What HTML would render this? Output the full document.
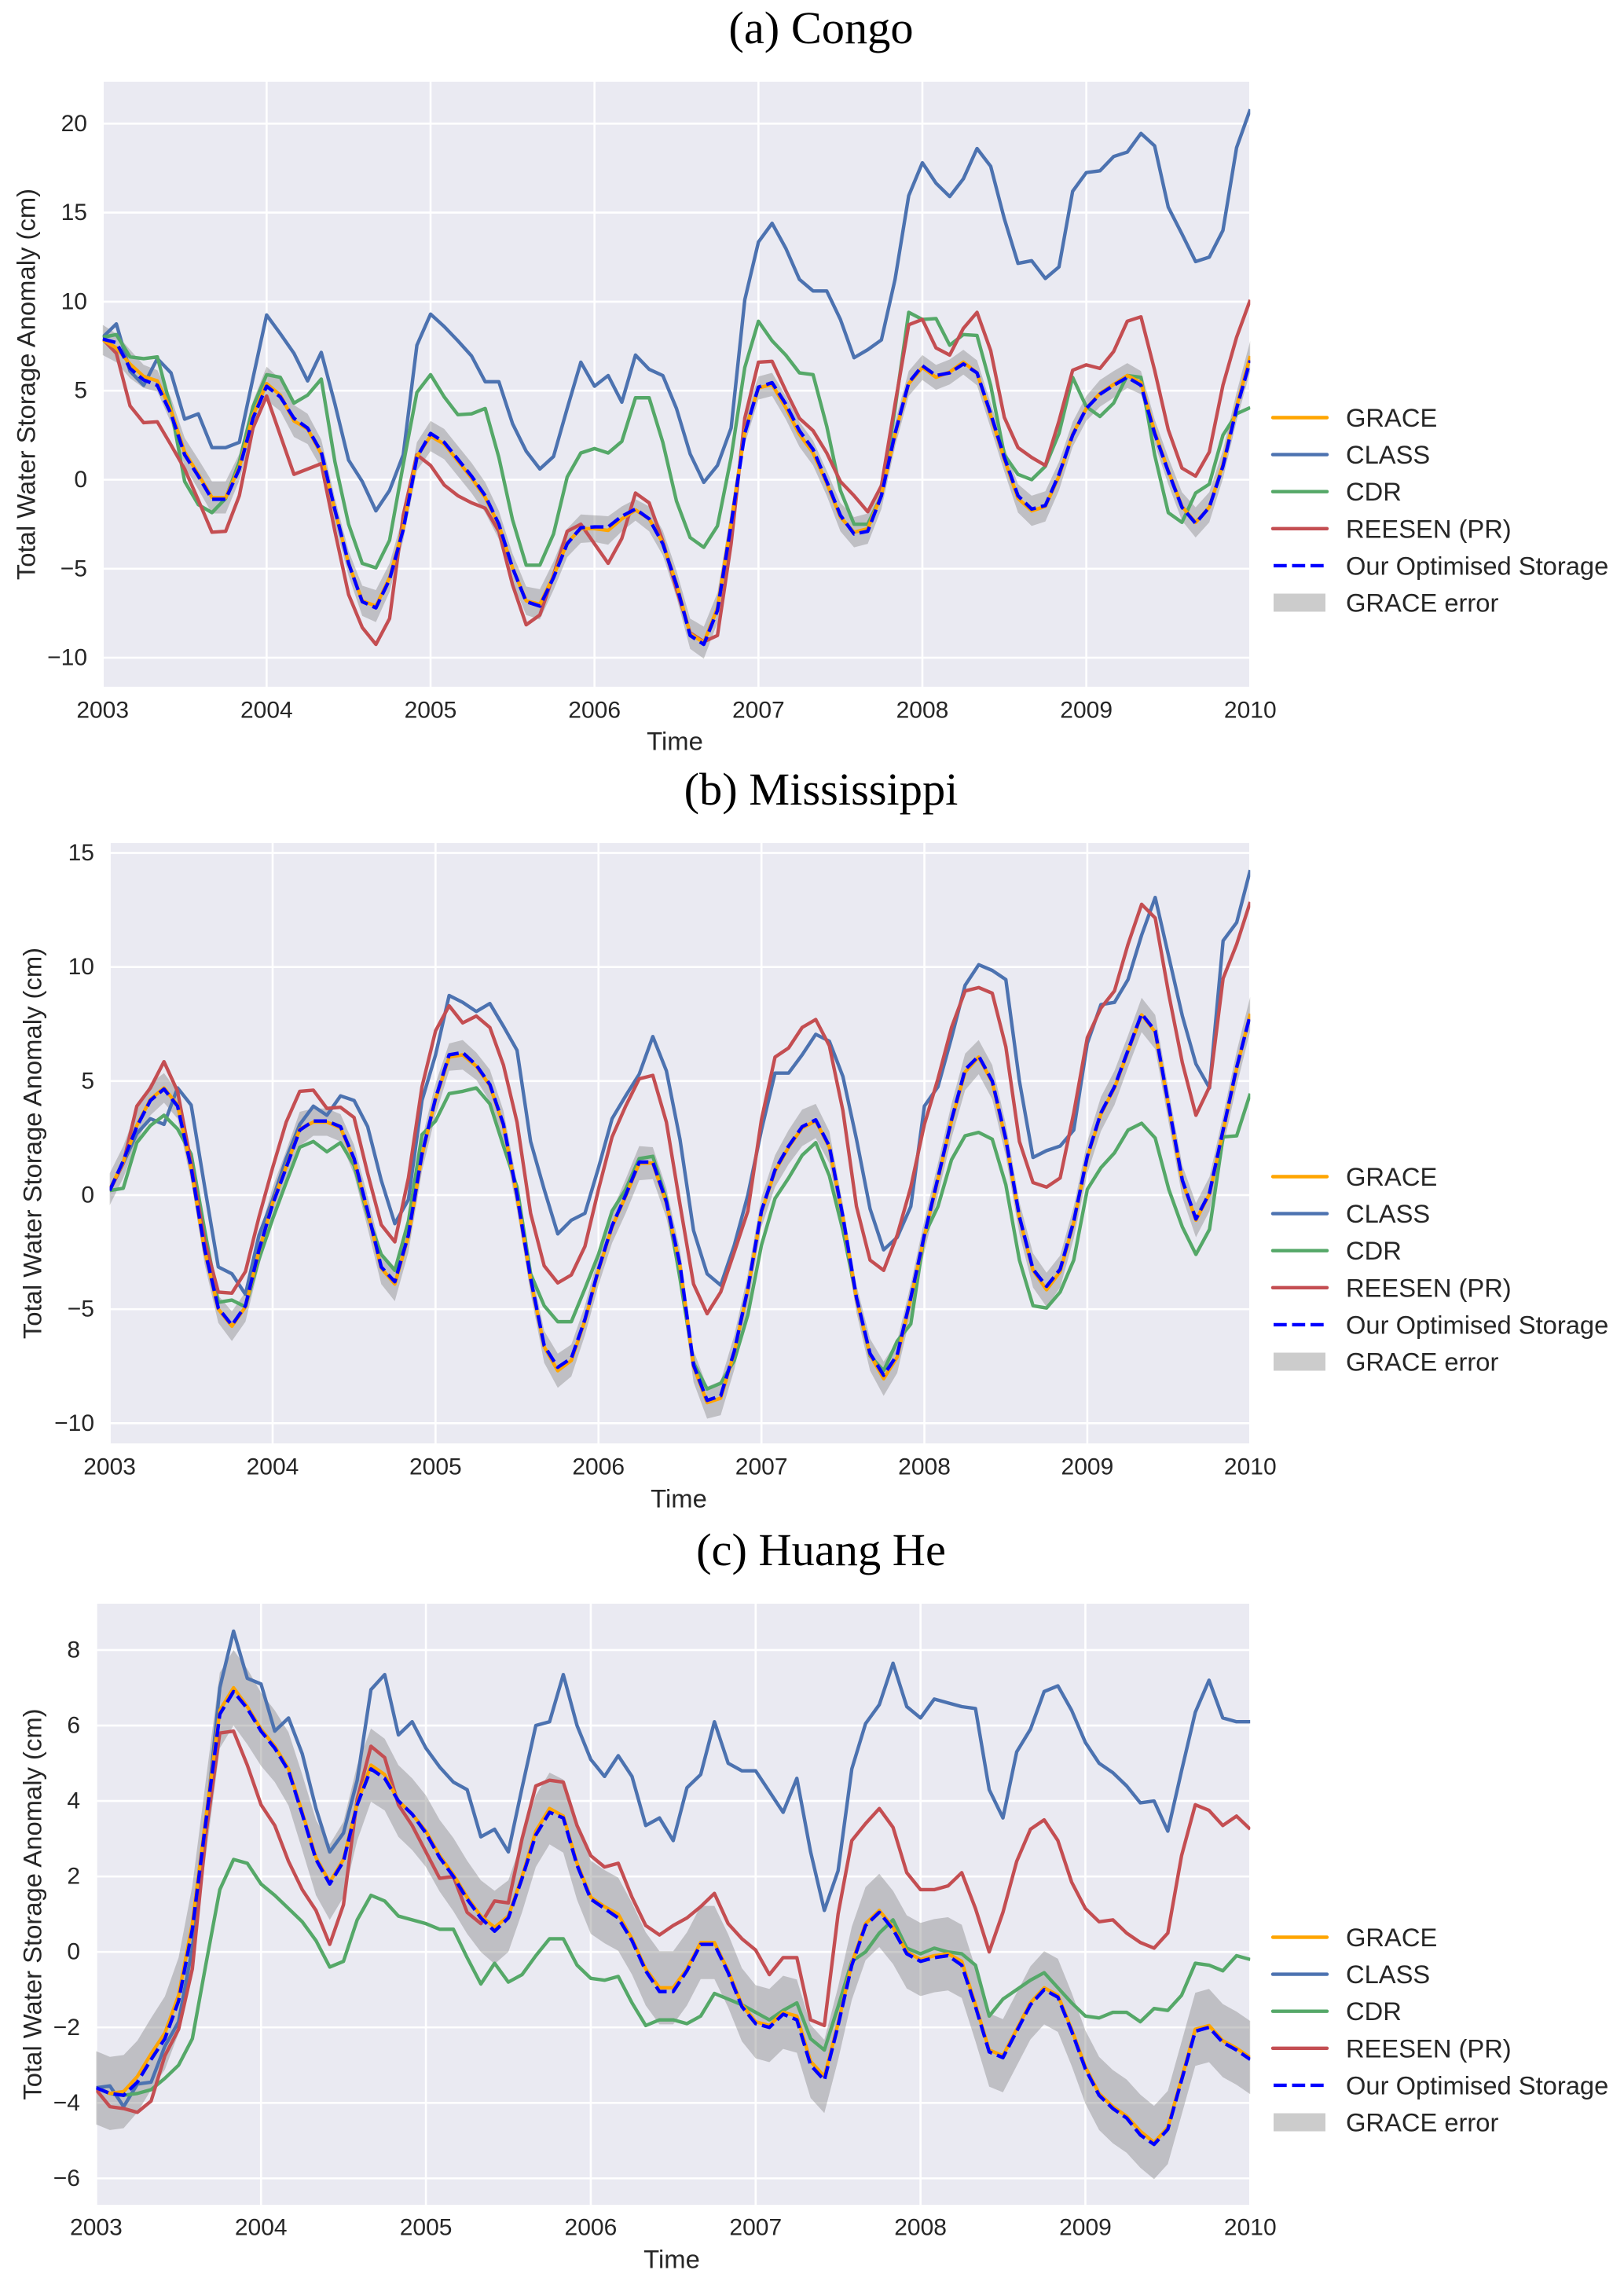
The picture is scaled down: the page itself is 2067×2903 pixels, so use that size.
<!DOCTYPE html>
<html lang="en">
<head>
<meta charset="utf-8">
<title>Total Water Storage Anomaly</title>
<style>
html,body{margin:0;padding:0;background:#fff;}
svg{display:block;}
text{font-family:"Liberation Sans",sans-serif;fill:#262626;}
.title{font-family:"Liberation Serif",serif;fill:#000;font-size:58.4px;text-anchor:middle;}
.tick{font-size:30px;}
.axis{font-size:32.8px;}
.leg{font-size:32.7px;dominant-baseline:central;}
</style>
</head>
<body>
<svg id="root" xmlns="http://www.w3.org/2000/svg" width="2067" height="2903" viewBox="0 0 2067 2903"></svg>
<script>
const xTickLabels = ['2003','2004','2005','2006','2007','2008','2009','2010'];
const monthsPerYear = 12;
const seriesLabels = ['GRACE','CLASS','CDR','REESEN (PR)','Our Optimised Storage','GRACE error'];

const congoYTicks = [-10,-5,0,5,10,15,20];
const congoClass = [
8.0,8.75,6.1,5.3,6.8,6.0,3.4,3.7,1.8,1.8,2.1,5.7,
9.25,8.2,7.1,5.55,7.15,4.25,1.1,-0.1,-1.75,-0.6,1.4,7.55,
9.3,8.6,7.8,6.95,5.5,5.5,3.15,1.6,0.6,1.3,4.0,6.6,
5.25,5.85,4.35,7.0,6.2,5.85,4.0,1.45,-0.15,0.8,2.9,10.1,
13.35,14.4,13.0,11.25,10.6,10.6,9.0,6.85,7.3,7.85,11.25,15.95,
17.8,16.65,15.9,16.9,18.6,17.6,14.65,12.15,12.3,11.3,11.95,16.2,
17.25,17.35,18.15,18.4,19.45,18.75,15.3,13.8,12.25,12.5,14.0,18.65,
20.8];
const congoCdr = [
8.0,8.15,6.9,6.8,6.9,4.0,-0.1,-1.4,-1.85,-1.05,1.0,4.1,
5.9,5.75,4.3,4.75,5.65,1.0,-2.5,-4.7,-4.95,-3.4,0.85,4.9,
5.9,4.65,3.65,3.7,4.0,1.25,-2.25,-4.8,-4.8,-3.05,0.15,1.5,
1.75,1.5,2.15,4.6,4.6,2.1,-1.2,-3.25,-3.8,-2.6,1.25,6.3,
8.9,7.8,7.0,6.0,5.9,3.0,-0.6,-2.5,-2.5,-0.9,4.0,9.4,
9.0,9.05,7.55,8.15,8.1,5.3,1.4,0.3,0,0.75,2.6,5.75,
4.1,3.55,4.3,5.85,5.75,1.4,-1.85,-2.4,-0.75,-0.25,2.5,3.7,
4.05];
const congoReesen = [
7.9,7.1,4.15,3.2,3.25,1.95,0.6,-1.15,-2.95,-2.9,-0.9,2.9,
4.7,2.5,0.3,0.6,0.9,-2.9,-6.45,-8.3,-9.25,-7.8,-2.0,1.4,
0.8,-0.3,-0.9,-1.3,-1.6,-2.9,-5.9,-8.15,-7.6,-5.35,-2.9,-2.5,
-3.6,-4.7,-3.3,-0.75,-1.3,-3.45,-6.15,-8.6,-9.1,-8.75,-3.6,3.45,
6.6,6.65,5.0,3.45,2.75,1.5,-0.1,-0.9,-1.8,-0.35,4.25,8.7,
9.0,7.4,7.0,8.5,9.4,7.25,3.5,1.8,1.25,0.8,3.3,6.15,
6.45,6.25,7.2,8.9,9.15,6.15,2.8,0.65,0.2,1.55,5.3,8.0,
10.1];
const congoOptimised = [
7.9,7.7,6.25,5.6,5.3,3.7,1.4,0.2,-1.1,-1.1,0.6,3.45,
5.25,4.65,3.45,2.9,1.55,-1.7,-4.7,-6.85,-7.2,-5.6,-2.8,1.25,
2.6,2.1,1.15,0.2,-0.9,-2.5,-4.95,-6.85,-7.1,-5.5,-3.6,-2.7,
-2.65,-2.65,-2.05,-1.65,-2.2,-3.6,-5.9,-8.75,-9.25,-7.35,-2.5,2.6,
5.2,5.45,4.25,2.75,1.7,-0.1,-2.0,-3.05,-2.9,-0.9,2.6,5.45,
6.4,5.85,6.0,6.5,6.0,3.7,1.25,-0.9,-1.65,-1.45,0.3,2.5,
4.0,4.8,5.3,5.75,5.3,2.6,0.45,-1.55,-2.45,-1.55,0.75,4.0,
6.7];
const congoGrace = [
7.85,7.4,6.5,5.8,5.55,3.9,1.55,0.3,-1.0,-1.0,0.7,3.6,
5.4,4.75,3.3,2.85,1.45,-1.75,-4.7,-6.8,-7.1,-5.5,-2.7,1.3,
2.45,2.0,1.05,0.1,-1.0,-2.55,-4.95,-6.8,-7.0,-5.4,-3.55,-2.75,
-2.75,-2.85,-2.2,-1.7,-2.2,-3.55,-5.85,-8.65,-9.15,-7.2,-2.4,2.7,
5.15,5.35,4.05,2.55,1.5,-0.2,-2.1,-2.95,-2.75,-0.85,2.55,5.4,
6.3,5.75,6.05,6.6,6.0,3.6,1.15,-1.05,-1.75,-1.5,0.2,2.55,
4.0,4.85,5.35,5.85,5.45,2.7,0.5,-1.5,-2.4,-1.55,0.85,4.1,
6.95];
const congoError = [
.85,.8,.8,.65,.6,.7,.8,.85,.9,.9,.75,.8,
.95,.9,.9,.85,.8,.7,.7,.85,.9,.8,.7,.8,
.85,.85,.85,.85,.85,.8,.8,.8,.85,.8,.8,.8,
.75,.8,.7,.6,.7,.7,.75,.85,.9,.85,.7,.7,
.65,.65,.65,.7,.7,.7,.8,.85,.85,.8,.7,.7,
.7,.7,.7,.7,.7,.7,.7,.8,.85,.85,.8,.7,
.7,.75,.75,.7,.65,.7,.75,.8,.85,.85,.8,.8,
.85];

const missYTicks = [-10,-5,0,5,10,15];
const missClass = [
0.2,1.4,2.7,3.35,3.1,4.7,3.95,0.35,-3.15,-3.45,-4.35,-1.75,
-0.2,1.6,3.1,3.9,3.5,4.35,4.15,3.0,0.65,-1.25,-0.2,4.15,
6.15,8.75,8.45,8.05,8.4,7.4,6.35,2.35,0.25,-1.7,-1.1,-0.8,
1.2,3.35,4.35,5.3,6.95,5.45,2.45,-1.55,-3.45,-3.95,-2.2,0,
2.85,5.35,5.35,6.15,7.05,6.75,5.2,2.45,-0.6,-2.4,-1.85,-0.5,
3.9,4.75,6.9,9.2,10.1,9.85,9.45,5.0,1.65,1.95,2.15,2.85,
6.65,8.35,8.45,9.45,11.4,13.05,10.45,7.85,5.75,4.7,11.15,11.95,
14.25];
const missCdr = [
0.2,0.3,2.3,3.05,3.5,2.9,1.8,-1.55,-4.7,-4.6,-4.9,-2.8,
-1.05,0.55,2.1,2.35,1.9,2.3,1.3,-0.9,-2.6,-3.3,-1.15,2.65,
3.25,4.45,4.55,4.7,4.0,2.15,0.35,-3.45,-4.85,-5.55,-5.55,-4.1,
-2.6,-0.7,0.25,1.6,1.7,-0.2,-3.65,-7.35,-8.5,-8.25,-7.25,-5.25,
-2.2,-0.15,0.75,1.75,2.3,0.85,-1.55,-4.5,-7.05,-7.7,-6.4,-5.65,
-1.75,-0.5,1.55,2.6,2.75,2.45,0.45,-2.85,-4.85,-4.95,-4.25,-2.85,
0.25,1.2,1.85,2.85,3.15,2.5,0.25,-1.4,-2.6,-1.5,2.55,2.6,
4.45];
const missReesen = [
0.2,1.4,3.9,4.7,5.85,4.55,1.4,-2.0,-4.25,-4.3,-3.35,-0.95,
1.2,3.2,4.55,4.6,3.8,3.85,3.4,0.95,-1.3,-2.05,0.75,4.75,
7.2,8.3,7.55,7.85,7.35,5.7,3.2,-0.8,-3.1,-3.85,-3.5,-2.25,
0.25,2.55,3.9,5.1,5.25,3.2,-0.4,-3.9,-5.2,-4.25,-2.5,-0.7,
3.3,6.05,6.45,7.35,7.7,6.55,3.7,-0.5,-2.85,-3.3,-1.75,0.35,
3.1,5.1,7.35,8.95,9.1,8.85,6.5,2.35,0.55,0.35,0.75,3.6,
6.9,8.2,8.95,11.0,12.75,12.15,8.8,5.8,3.5,4.75,9.5,11.0,
12.85];
const missOptimised = [
0.2,1.5,3.0,4.15,4.65,3.9,1.2,-2.4,-4.95,-5.7,-4.85,-2.4,
-0.4,1.2,2.85,3.25,3.25,3.0,1.6,-0.7,-3.15,-3.8,-1.75,1.8,
4.25,6.15,6.25,5.7,4.85,3.1,0,-3.65,-6.6,-7.55,-7.15,-5.45,
-3.25,-1.35,0,1.45,1.45,-0.3,-3.05,-7.45,-9.0,-8.8,-6.85,-4.1,
-0.7,1.1,2.15,3.0,3.3,2.15,-0.95,-4.5,-6.95,-7.9,-7.0,-4.5,
-1.75,0.75,3.3,5.5,6.1,5.0,2.45,-0.95,-3.25,-4.0,-3.25,-1.15,
1.7,3.6,4.75,6.35,7.95,7.2,3.9,0.65,-1.05,0.1,2.85,5.6,
7.9];
const missGrace = [
0.25,1.45,3.05,4.2,4.7,3.95,1.15,-2.45,-5.0,-5.75,-4.9,-2.45,
-0.35,1.25,2.9,3.2,3.2,2.95,1.55,-0.75,-3.2,-3.9,-1.8,1.75,
4.2,6.05,6.15,5.65,4.8,3.05,-0.05,-3.7,-6.65,-7.7,-7.25,-5.5,
-3.3,-1.4,-0.05,1.4,1.4,-0.35,-3.1,-7.5,-9.1,-8.9,-6.9,-4.15,
-0.75,1.05,2.1,2.95,3.25,2.1,-1.0,-4.55,-7.0,-8.05,-7.1,-4.55,
-1.8,0.7,3.25,5.4,6.05,4.95,2.4,-1.0,-3.3,-4.15,-3.35,-1.2,
1.65,3.55,4.7,6.3,7.9,7.15,3.85,0.6,-1.1,0.05,2.8,5.55,
7.95];
const missError = [
.7,.7,.7,.7,.65,.6,.55,.6,.6,.65,.65,.65,
.7,.7,.75,.6,.6,.6,.65,.7,.7,.75,.7,.7,
.7,.6,.65,.6,.7,.65,.6,.6,.7,.75,.7,.65,
.65,.7,.75,.75,.7,.65,.7,.7,.7,.75,.75,.7,
.65,.7,.75,.8,.75,.7,.6,.6,.7,.75,.7,.65,
.7,.7,.75,.8,.75,.75,.7,.7,.75,.75,.7,.7,
.7,.75,.75,.7,.75,.75,.7,.7,.75,.75,.7,.75,
.75];

const huangYTicks = [-6,-4,-2,0,2,4,6,8];
const huangClass = [
-3.6,-3.55,-4.1,-3.5,-3.45,-2.5,-1.85,0.1,3.4,7.0,8.5,7.25,
7.1,5.85,6.2,5.25,3.8,2.65,3.15,4.55,6.95,7.35,5.75,6.1,
5.4,4.9,4.5,4.3,3.05,3.25,2.65,4.35,6.0,6.1,7.35,6.0,
5.1,4.65,5.2,4.65,3.35,3.55,2.95,4.35,4.7,6.1,5.0,4.8,
4.8,4.25,3.7,4.6,2.65,1.1,2.15,4.85,6.05,6.55,7.65,6.5,
6.2,6.7,6.6,6.5,6.45,4.3,3.55,5.3,5.9,6.9,7.05,6.4,
5.55,5.0,4.75,4.4,3.95,4.0,3.2,4.8,6.35,7.2,6.2,6.1,
6.1];
const huangCdr = [
-3.6,-3.75,-3.8,-3.75,-3.65,-3.35,-3.0,-2.3,-0.3,1.65,2.45,2.35,
1.8,1.5,1.15,0.8,0.3,-0.4,-0.25,0.85,1.5,1.35,0.95,0.85,
0.75,0.6,0.6,-0.15,-0.85,-0.3,-0.8,-0.6,-0.1,0.35,0.35,-0.35,
-0.7,-0.75,-0.65,-1.35,-1.95,-1.8,-1.8,-1.9,-1.7,-1.1,-1.25,-1.4,
-1.6,-1.8,-1.55,-1.35,-2.3,-2.6,-1.45,-0.25,0,0.5,0.85,0.1,
-0.05,0.1,0,-0.05,-0.35,-1.7,-1.25,-1.0,-0.75,-0.55,-0.95,-1.35,
-1.7,-1.75,-1.6,-1.6,-1.85,-1.5,-1.55,-1.15,-0.3,-0.35,-0.5,-0.1,
-0.2];
const huangReesen = [
-3.65,-4.1,-4.15,-4.25,-3.95,-2.75,-2.05,-0.45,3.15,5.8,5.85,4.95,
3.9,3.35,2.4,1.65,1.1,0.2,1.25,4.05,5.45,5.15,3.9,3.35,
2.65,1.95,2.0,1.05,0.75,1.35,1.3,3.0,4.4,4.55,4.5,3.35,
2.55,2.25,2.35,1.45,0.7,0.45,0.7,0.9,1.2,1.55,0.75,0.35,
0.05,-0.6,-0.15,-0.15,-1.8,-1.95,1.0,2.95,3.4,3.8,3.3,2.1,
1.65,1.65,1.75,2.1,1.15,0,1.05,2.4,3.25,3.5,2.95,1.85,
1.15,0.8,0.85,0.5,0.25,0.1,0.5,2.55,3.9,3.75,3.35,3.6,
3.25];
const huangOptimised = [
-3.6,-3.75,-3.8,-3.45,-2.85,-2.3,-1.3,0.6,3.5,6.3,6.9,6.45,
5.85,5.4,4.8,3.65,2.45,1.8,2.4,3.9,4.85,4.6,4.0,3.65,
3.15,2.5,2.0,1.4,0.9,0.55,0.9,1.95,3.1,3.7,3.55,2.3,
1.4,1.15,0.9,0.3,-0.5,-1.05,-1.05,-0.5,0.2,0.2,-0.55,-1.45,
-1.9,-2.0,-1.65,-1.8,-3.0,-3.4,-1.95,-0.35,0.7,1.05,0.6,-0.05,
-0.25,-0.15,-0.1,-0.35,-1.45,-2.65,-2.8,-2.1,-1.4,-1.0,-1.2,-2.1,
-3.1,-3.8,-4.15,-4.4,-4.85,-5.1,-4.7,-3.4,-2.1,-2.0,-2.4,-2.6,
-2.85];
const huangGrace = [
-3.6,-3.75,-3.7,-3.3,-2.7,-2.15,-1.15,0.75,3.6,6.4,7.0,6.5,
5.9,5.45,4.85,3.7,2.5,1.85,2.45,3.95,4.95,4.7,4.0,3.65,
3.2,2.55,2.05,1.45,0.95,0.65,0.95,2.0,3.2,3.8,3.6,2.35,
1.45,1.2,1.0,0.35,-0.45,-0.95,-0.95,-0.45,0.25,0.25,-0.5,-1.4,
-1.85,-1.95,-1.6,-1.7,-2.9,-3.3,-1.9,-0.3,0.75,1.1,0.65,0,
-0.2,-0.1,-0.05,-0.25,-1.4,-2.6,-2.75,-2.05,-1.35,-0.95,-1.15,-2.05,
-3.05,-3.75,-4.1,-4.35,-4.75,-5.05,-4.65,-3.35,-2.05,-1.95,-2.35,-2.55,
-2.8];
const huangError = [
.97,.97,.97,.95,.95,.97,1.0,1.0,1.0,1.0,1.0,1.0,
.97,.95,.97,1.0,1.0,1.0,1.0,1.0,.97,.95,.95,.95,
.95,.95,.97,.97,.95,.97,.95,.95,.95,.95,.97,.97,
.97,.97,.97,.95,.97,.97,.97,.97,.97,.97,.97,.97,
.97,.97,.97,.97,.97,.97,.97,.97,.97,.97,.97,.97,
.97,.97,.97,.97,.97,.97,.97,.97,.97,.97,.97,.97,
.97,.97,.97,.97,.97,.97,.97,.97,.97,.97,.97,.97,
.97];

const svgNS = 'http://www.w3.org/2000/svg';
const root = document.getElementById('root');

function make(parent, tag, attrs, content) {
  const node = document.createElementNS(svgNS, tag);
  for (const k in attrs) node.setAttribute(k, attrs[k]);
  if (content !== undefined) node.textContent = content;
  parent.appendChild(node);
  return node;
}

function linePath(xs, values, yScale) {
  return values.map((v, i) => (i ? 'L' : 'M') + xs(i).toFixed(2) + ' ' + yScale(v).toFixed(2)).join(' ');
}

function drawChart(cfg) {
  const g = make(root, 'g', {});
  
  
  const lastIndex = (xTickLabels.length - 1) * monthsPerYear;
  const xs = i => cfg.left + (cfg.right - cfg.left) * i / lastIndex;
  const ys = v => cfg.zeroY - v * cfg.unit;

  const title = make(g, 'text', {class: 'title', x: 1045, y: cfg.titleY}, cfg.title);
  
  

  const bg = make(g, 'rect', {x: cfg.left, y: cfg.top, width: cfg.right - cfg.left, height: cfg.bottom - cfg.top, fill: '#EAEAF2'});
  
  

  const clipId = cfg.key + '-clip';
  const defs = make(g, 'defs', {});
  const clip = make(defs, 'clipPath', {id: clipId});
  make(clip, 'rect', {x: cfg.left, y: cfg.top, width: cfg.right - cfg.left, height: cfg.bottom - cfg.top});

  cfg.yTicks.forEach(t => {
    const gl = make(g, 'line', {x1: cfg.left, x2: cfg.right, y1: ys(t), y2: ys(t), stroke: '#fff', 'stroke-width': 2.6});
    
    
    const lb = make(g, 'text', {class: 'tick', x: cfg.yLabelX, y: ys(t), 'text-anchor': 'end', 'dominant-baseline': 'central'}, String(t).replace('-', '\u2212'));
    
    
  });
  xTickLabels.forEach((t, n) => {
    const x = xs(n * monthsPerYear);
    const gl = make(g, 'line', {x1: x, x2: x, y1: cfg.top, y2: cfg.bottom, stroke: '#fff', 'stroke-width': 2.6});
    
    
    const lb = make(g, 'text', {class: 'tick', x: x, y: cfg.xLabelY, 'text-anchor': 'middle', 'dominant-baseline': 'central'}, t);
    
    
  });

  const marks = make(g, 'g', {'clip-path': 'url(#' + clipId + ')'});
  
  

  const upper = cfg.grace.map((v, i) => v + cfg.error[i]);
  const lower = cfg.grace.map((v, i) => v - cfg.error[i]);
  const bandPts = upper.map((v, i) => xs(i).toFixed(2) + ',' + ys(v).toFixed(2))
    .concat(lower.map((v, i) => xs(i).toFixed(2) + ',' + ys(v).toFixed(2)).reverse());
  const band = make(marks, 'polygon', {points: bandPts.join(' '), fill: '#808080', 'fill-opacity': 0.4});
  
  

  const solid = {fill: 'none', 'stroke-width': 4.4, 'stroke-linejoin': 'round', 'stroke-linecap': 'butt'};
  const classLine = make(marks, 'path', Object.assign({d: linePath(xs, cfg.cls, ys), stroke: '#4C72B0'}, solid));
  
  
  const cdrLine = make(marks, 'path', Object.assign({d: linePath(xs, cfg.cdr, ys), stroke: '#55A868'}, solid));
  
  
  const reesenLine = make(marks, 'path', Object.assign({d: linePath(xs, cfg.reesen, ys), stroke: '#C44E52'}, solid));
  
  
  const graceLine = make(marks, 'path', Object.assign({d: linePath(xs, cfg.grace, ys), stroke: '#FFA500'}, solid));
  
  
  const optLine = make(marks, 'path', Object.assign({d: linePath(xs, cfg.optimised, ys), stroke: '#0000FF', 'stroke-dasharray': '16.7 6.8'}, solid));
  
  

  const xt = make(g, 'text', {class: 'axis', x: cfg.xTitleX, y: cfg.xTitleY, 'text-anchor': 'middle', 'dominant-baseline': 'central'}, 'Time');
  
  
  const yt = make(g, 'text', {class: 'axis', 'text-anchor': 'middle', 'dominant-baseline': 'central',
    transform: 'translate(' + cfg.yTitleX + ' ' + ((cfg.top + cfg.bottom) / 2) + ') rotate(-90)'}, 'Total Water Storage Anomaly (cm)');
  
  

  const legend = make(g, 'g', {transform: 'translate(0 ' + cfg.legendDy + ')'});
  
  
  const swatchColors = ['#FFA500', '#4C72B0', '#55A868', '#C44E52', '#0000FF'];
  seriesLabels.forEach((label, n) => {
    const rowY = 531.5 + n * 47.1;
    if (n < 5) {
      const sw = make(legend, 'line', {x1: n === 4 ? 1621 : 1620, x2: n === 4 ? 1686 : 1689, y1: rowY, y2: rowY, stroke: swatchColors[n], 'stroke-width': 4.4,
        'stroke-linecap': n === 4 ? 'butt' : 'round', 'stroke-dasharray': n === 4 ? '16.7 6.8' : 'none'});
      
      
    } else {
      const sw = make(legend, 'rect', {x: 1621, y: rowY - 11.5, width: 66, height: 23, fill: '#808080', 'fill-opacity': 0.4});
      
      
    }
    const tx = make(legend, 'text', {class: 'leg', x: 1713, y: rowY}, label);
    
    
  });
}

drawChart({key: 'congo', title: '(a) Congo', titleY: 55, left: 130.7, right: 1591.3, top: 104, bottom: 874, zeroY: 610.5, unit: 22.66,
  yTicks: congoYTicks, yLabelX: 111, xLabelY: 904, xTitleX: 859, xTitleY: 943, yTitleX: 33, legendDy: 0,
  cls: congoClass, cdr: congoCdr, reesen: congoReesen, grace: congoGrace, optimised: congoOptimised, error: congoError});
drawChart({key: 'mississippi', title: '(b) Mississippi', titleY: 1024, left: 139.6, right: 1591.3, top: 1073, bottom: 1837, zeroY: 1521, unit: 29.03,
  yTicks: missYTicks, yLabelX: 120, xLabelY: 1867, xTitleX: 864, xTitleY: 1907, yTitleX: 41, legendDy: 966,
  cls: missClass, cdr: missCdr, reesen: missReesen, grace: missGrace, optimised: missOptimised, error: missError});
drawChart({key: 'huang-he', title: '(c) Huang He', titleY: 1992, left: 122.4, right: 1591.3, top: 2041, bottom: 2806, zeroY: 2484.2, unit: 48.03,
  yTicks: huangYTicks, yLabelX: 102, xLabelY: 2835, xTitleX: 855, xTitleY: 2875, yTitleX: 41, legendDy: 1934,
  cls: huangClass, cdr: huangCdr, reesen: huangReesen, grace: huangGrace, optimised: huangOptimised, error: huangError});
</script>
</body>
</html>
